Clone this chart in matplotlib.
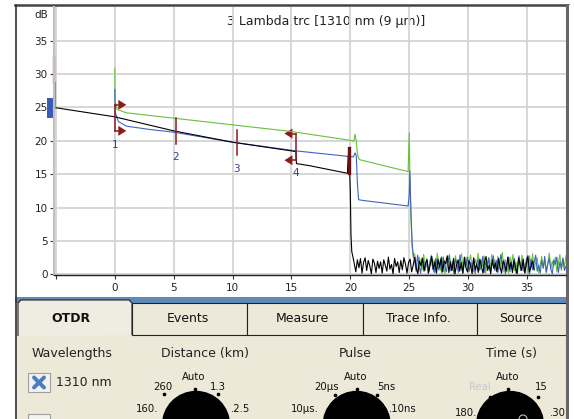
import numpy as np
import matplotlib.pyplot as plt
from matplotlib.patches import Rectangle, Circle, Polygon

W, H = 574, 419

# --- trace data: distance (km) vs level (dB) ---
black_km = [-5.16, 0.0, 5.0, 10.0, 15.38, 15.42, 16.5, 19.75, 19.82, 19.9, 20.0, 20.05, 20.12]
black_db = [25.0, 23.6, 21.5, 19.8, 18.4, 16.6, 16.3, 15.15, 17.8, 18.1, 12.0, 6.0, 3.4]
black_noise = [2.8, 1.6, 0.4, 2.2, 1.0, 2.4, 0.2, 1.8, 2.5, 0.6, 2.1, 1.3, 0.1, 2.3, 1.7, 0.3,
               2.0, 0.9, 1.9, 0.2, 2.2, 1.4, 0.5, 2.6, 0.8, 1.5, 0.1, 2.4, 1.2, 1.9, 0.3, 2.1,
               0.7, 2.5, 1.6, 0.2, 1.8, 2.3, 0.4, 1.4, 2.6, 0.9, 0.1, 2.0, 1.3, 2.4, 0.5, 1.7,
               2.2, 0.3, 1.5, 2.7, 0.8, 1.9, 0.2, 2.3, 1.1, 2.5, 0.4, 2.0, 1.6, 2.8,
               0.3, 1.9, 0.6, 2.4, 0.1, 1.5, 2.2, 0.5, 1.8, 0.2, 2.6, 1.0, 0.4, 2.1, 1.3, 0.1,
               2.5, 0.7, 1.6, 0.3, 2.3, 1.2, 0.2, 1.9, 2.7, 0.6, 1.4, 0.1, 2.2, 0.9, 1.7, 0.4,
               2.4, 1.1, 0.2, 2.0, 1.5, 0.5, 2.6, 0.8, 1.8, 0.3, 2.1, 1.0, 0.1, 2.5, 1.4, 0.6,
               2.3, 0.2, 1.6, 2.8, 0.4, 1.2, 2.0, 0.7]
black_noise_km = (20.2, 35.6)

blue_km = [0.0, 0.03, 0.3, 1.0, 3.0, 5.0, 10.0, 15.4, 20.25, 20.4, 20.5, 20.6, 20.7, 21.0,
           24.9, 25.0, 25.05, 25.15, 25.25, 25.35]
blue_db = [27.7, 24.3, 22.9, 22.2, 21.7, 21.3, 19.8, 18.5, 17.6, 18.2, 17.8, 13.5, 11.2, 11.1,
           10.25, 12.0, 15.5, 9.0, 4.5, 2.6]
blue_noise = [2.3, 0.5, 2.9, 1.2, 0.2, 2.5, 1.8, 0.6, 2.2, 0.1, 1.6, 2.7, 0.9, 0.3, 2.4, 1.4,
              0.7, 2.1, 0.2, 2.6, 1.1, 0.4, 1.9, 2.8, 0.6, 1.5, 0.1, 2.3, 1.7, 0.5, 2.9, 1.0,
              0.2, 2.0, 1.3, 2.6, 0.4, 1.8, 0.8, 2.4, 0.1, 1.6, 2.2, 0.7, 1.2, 2.7, 0.3, 1.9,
              1.0, 2.5, 0.5, 1.4, 2.8, 0.6, 2.1,
              0.3, 1.7, 3.0, 0.8, 2.2, 0.1, 1.5, 2.6, 0.4, 1.9, 0.9, 2.4, 0.2, 1.3, 2.8, 0.6,
              2.0, 1.1, 0.3, 2.5, 1.6, 0.1, 2.3, 0.7, 1.8, 2.9, 0.5, 1.4, 0.2, 2.1, 1.0, 2.7,
              0.4, 1.6, 2.4, 0.8, 0.1, 2.2, 1.5, 2.6, 0.3, 1.9, 0.9, 2.5, 0.6, 1.2]
blue_noise_km = (25.45, 38.3)

green_km = [0.0, 0.03, 0.2, 1.0, 3.0, 5.0, 10.0, 15.0, 20.3, 20.4, 20.5, 20.6, 20.75,
            24.9, 25.0, 25.05, 25.15, 25.25, 25.35]
green_db = [30.9, 26.0, 24.7, 24.2, 23.8, 23.4, 22.4, 21.4, 20.0, 21.0, 20.0, 18.0, 17.2,
            15.4, 21.2, 15.0, 8.0, 4.0, 2.8]
green_noise = [3.1, 1.4, 0.3, 2.6, 1.9, 0.7, 3.0, 1.1, 2.4, 0.2, 1.7, 2.9, 0.8, 2.2, 0.4, 3.2,
               1.5, 0.6, 2.7, 1.2, 0.1, 2.5, 1.8, 3.0, 0.5, 2.0, 0.9, 2.8, 1.3, 0.2, 2.4, 3.1,
               0.7, 1.6, 2.6, 0.3, 1.9, 2.9, 1.0, 0.4, 2.3, 1.5, 3.2, 0.6, 2.1, 1.2, 2.8, 0.2,
               1.7, 2.5, 0.9, 3.0, 1.4, 2.2, 0.5,
               2.7, 0.8, 1.9, 3.3, 0.4, 2.2, 1.1, 0.2, 2.6, 1.6, 3.0, 0.6, 1.8, 0.3, 2.4, 1.3,
               2.9, 0.5, 1.5, 2.1, 0.1, 2.8, 1.0, 3.1, 0.7, 1.9, 2.5, 0.3, 1.4, 2.7, 0.9, 2.2,
               0.2, 1.6, 3.2, 0.8, 2.0, 1.2, 2.6, 0.4, 1.7, 3.0, 0.6, 2.3, 1.1, 2.8]
green_noise_km = (25.45, 38.3)

# event markers: (km, top dB, bottom dB, label, label dB)
events = [(0.0, 25.4, 21.5, '1', 19.4),
          (5.2, 23.4, 19.6, '2', 17.6),
          (10.35, 21.7, 17.9, '3', 15.85),
          (15.38, 21.1, 17.1, '4', 15.25)]
end_marker = (19.85, 18.9, 15.15)

x_ticks = [-5, 0, 5, 10, 15, 20, 25, 30, 35]
x_labels = ['', '0', '5', '10', '15', '20', '25', '30', '35']
y_ticks = [0, 5, 10, 15, 20, 25, 30, 35]

tabs = ['OTDR', 'Events', 'Measure', 'Trace Info.', 'Source']
tab_edges = [18, 132, 247, 362.7, 477.3, 568]

RED = '#8c1c1c'
NAVY = '#3b3b8f'
BEIGE = '#ece9d8'

fig = plt.figure(figsize=(W / 100, H / 100), dpi=100)

# ---- pixel overlay for frame and control panel ----
ui = fig.add_axes([0, 0, 1, 1], zorder=0)
ui.set_xlim(0, W)
ui.set_ylim(H, 0)
ui.axis('off')

ui.add_patch(Rectangle((15, 297), 553, 6, color='#5f8ab8', lw=0))
ui.add_patch(Rectangle((15, 303), 553, 120, color=BEIGE, lw=0))

# tabs
for i, name in enumerate(tabs):
    x0, x1 = tab_edges[i], tab_edges[i + 1]
    if i == 0:
        ui.add_patch(Polygon([(x0, 336), (x0, 303), (x0 + 3, 300), (x1 - 3, 300), (x1, 303), (x1, 335)],
                             closed=False, fc='#efede2', ec='#222222', lw=0.8))
        ui.text((x0 + x1) / 2 - 4, 318, name, ha='center', va='center', fontsize=9,
                fontweight='bold', color='#111111')
    else:
        ui.add_patch(Rectangle((x0, 303), x1 - x0, 32, fc=BEIGE, ec='#222222', lw=0.8))
        ui.text((x0 + x1) / 2 - 2, 318, name, ha='center', va='center', fontsize=9, color='#111111')

# section headings
for label, cx in [('Wavelengths', 72), ('Distance (km)', 205), ('Pulse', 355), ('Time (s)', 512)]:
    ui.text(cx, 353, label, ha='center', va='center', fontsize=9, color='#222222')

# checkbox
ui.add_patch(Rectangle((28, 373), 22, 19, fc='#f2f2ee', ec='#a0a0a0', lw=0.8))
ui.plot([34, 44], [377.5, 387.5], color='#4a7cc0', lw=2.8, solid_capstyle='round')
ui.plot([34, 44], [387.5, 377.5], color='#4a7cc0', lw=2.8, solid_capstyle='round')
ui.text(84, 382, '1310 nm', ha='center', va='center', fontsize=9, color='#222222')
ui.add_patch(Rectangle((28, 414), 22, 12, fc='#f2f2ee', ec='#a0a0a0', lw=0.8, clip_on=False))

# dials
dials = [(196, ['Auto', '260', '1.3', '160.', '.2.5'],
          [(194, 377), (163, 387), (218, 387), (147, 409), (241, 409)],
          [(195, 388.5), (164, 394), (218, 394)]),
         (356.7, ['Auto', '20µs', '5ns', '10µs.', '.10ns'],
          [(355.7, 377), (326.7, 387), (386.7, 387), (305, 409), (403, 409)],
          [(356.7, 388.5), (335, 395), (377.3, 395)]),
         (510, ['Auto', 'Real', '15', '180.', '.30'],
          [(508, 377), (480, 387), (541.7, 387), (466, 413), (558, 413)],
          [(508.3, 388.5), (490, 396.7), (538.3, 396.7)])]
for cx, labels, pos, dots in dials:
    ui.add_patch(Circle((cx, 425), 33.5, color='black', clip_on=True))
    for lab, (tx, ty) in zip(labels, pos):
        col = '#c8c8c8' if lab == 'Real' else '#111111'
        ui.text(tx, ty, lab, ha='center', va='center', fontsize=7.3, color=col)
    for dx, dy in dots:
        ui.plot(dx, dy, 'o', color='black', ms=1.6)
ui.add_patch(Circle((523, 419), 4, fc='none', ec='#bbbbbb', lw=0.8))

# frame
ui.plot([15, 568], [5, 5], color='#444444', lw=1.8)
ui.plot([15.5, 15.5], [5, 419], color='#333333', lw=1.2)
ui.add_patch(Rectangle((566, 5), 8, 414, color='white', lw=0, zorder=5))
ui.plot([567, 567], [5, 419], color='#666666', lw=2.2, zorder=6)
ui.text(41, 15, 'dB', ha='center', va='center', fontsize=7.5, color='#222222')
ui.text(326, 21, '3 Lambda.trc [1310 nm (9 µm)]', ha='center', va='center',
        fontsize=9, color='#222222', zorder=7)

# ---- trace chart ----
ax = fig.add_axes([54 / W, 1 - 275 / H, (565.7 - 54) / W, (275 - 7) / H], zorder=1)
ax.set_facecolor('none')
ax.set_xlim(-5.16, 38.28)
ax.set_ylim(-0.075, 40.04)

gx = np.linspace(*green_noise_km, len(green_noise))
bx = np.linspace(*blue_noise_km, len(blue_noise))
kx = np.linspace(*black_noise_km, len(black_noise))
ax.plot(list(green_km) + list(gx), list(green_db) + list(green_noise), color='#66c23a', lw=0.8)
ax.plot(list(blue_km) + list(bx), list(blue_db) + list(blue_noise), color='#4363c2', lw=0.8)
ax.plot(list(black_km) + list(kx), list(black_db) + list(black_noise), color='black', lw=0.8)

# event brackets
for km, top, bot, lab, ly in events:
    ax.plot([km, km], [bot, top], color=RED, lw=1.1)
    ax.text(km, ly, lab, ha='center', va='center', fontsize=7.5, color=NAVY)
for km, top, bot, direction in [(0.0, 25.4, 21.5, 1), (15.38, 21.1, 17.1, -1)]:
    base = km + direction * 0.3
    tip = km + direction * 0.98
    for lvl in (top, bot):
        ax.plot([km, base], [lvl, lvl], color=RED, lw=1.1)
        ax.add_patch(Polygon([(base, lvl + 0.75), (base, lvl - 0.75), (tip, lvl)], color=RED, lw=0))
ax.plot([end_marker[0]] * 2, end_marker[1:], color='#6a1010', lw=2.4)

# launch level indicator at the left edge
ax.plot([-5.16, -5.16], [28.7, 32.6], color='#a01818', lw=1.6, clip_on=False)
ax.plot([-5.16, -5.16], [25.0, 28.7], color='#8a8a8a', lw=2.0, clip_on=False)
ax.add_patch(Rectangle((-5.72, 23.5), 0.56, 2.9, color='#3a5cb8', lw=0, clip_on=False))

ax.set_xticks(x_ticks)
ax.set_xticklabels(x_labels)
ax.set_yticks(y_ticks)
ax.grid(color='#d4d4d4', lw=1.3)
ax.set_axisbelow(True)
ax.tick_params(labelsize=7.5, length=3, width=0.8, color='#333333', labelcolor='#222222')
ax.tick_params(axis='y', pad=1.5)
ax.tick_params(axis='x', pad=3)
for side in ('top', 'right'):
    ax.spines[side].set_visible(False)
ax.spines['left'].set_color('#c0c0c0')
ax.spines['left'].set_linewidth(1.5)
ax.spines['bottom'].set_color('#202020')
ax.spines['bottom'].set_linewidth(1.0)

fig.savefig('out.png', dpi=100)
